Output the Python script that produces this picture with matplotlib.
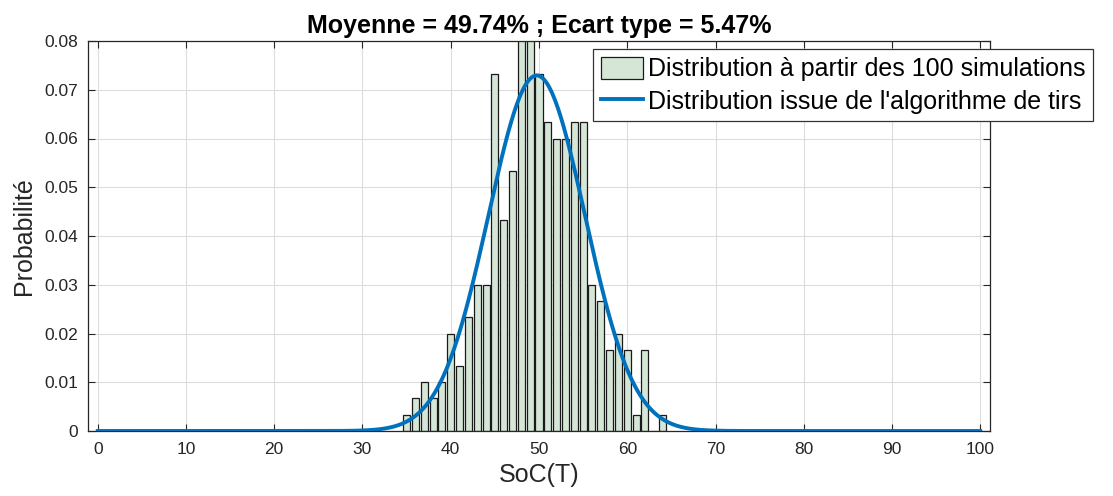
import numpy as np
import matplotlib
matplotlib.use("Agg")
import matplotlib.pyplot as plt
from matplotlib.ticker import FuncFormatter

plt.rcParams['font.family'] = ['Liberation Sans', 'DejaVu Sans']

# Histogram of the simulated SoC(T) values (bins of 1 %)
soc_bins = [35, 36, 37, 38, 39, 40, 41, 42, 43, 44, 45, 46, 47, 48, 49,
            50, 51, 52, 53, 54, 55, 56, 57, 58, 59, 60, 61, 62, 63, 64]
probabilities = [0.0033, 0.0067, 0.0100, 0.0067, 0.0100, 0.0200, 0.0133, 0.0233,
                 0.0300, 0.0300, 0.0733, 0.0433, 0.0533, 0.0833, 0.0833,
                 0.0733, 0.0633, 0.0600, 0.0600, 0.0633, 0.0633, 0.0300, 0.0267,
                 0.0167, 0.0200, 0.0167, 0.0033, 0.0167, 0.0000, 0.0033]

# Parameters of the fitted distribution
MU = 49.74
SIGMA = 5.47

x_ticks = list(range(0, 101, 10))
y_ticks = [0, 0.01, 0.02, 0.03, 0.04, 0.05, 0.06, 0.07, 0.08]

label_hist = "Distribution à partir des 100 simulations"
label_curve = "Distribution issue de l'algorithme de tirs"

W, H = 1113, 496
fig = plt.figure(figsize=(W / 100, H / 100), dpi=100)
ax = fig.add_axes([88 / W, 1 - 431 / H, (990 - 88) / W, (431 - 41) / H])

dark = '#262626'

bars = ax.bar(soc_bins, probabilities, width=0.8, color='#d5e6d6', edgecolor='#1a1a1a',
              linewidth=0.9, label=label_hist, zorder=2)

xs = np.linspace(0, 100, 1001)
pdf = np.exp(-0.5 * ((xs - MU) / SIGMA) ** 2) / (SIGMA * np.sqrt(2 * np.pi))
curve, = ax.plot(xs, pdf, color='#0072BD', linewidth=2.8, label=label_curve, zorder=3)

ax.set_xlim(-1.1, 101.1)
ax.set_ylim(0, 0.08)
ax.set_xticks(x_ticks)
ax.set_yticks(y_ticks)
ax.yaxis.set_major_formatter(FuncFormatter(lambda v, p: '0' if v == 0 else f'{v:.2f}'))

ax.grid(True, color='#dcdcdc', linewidth=0.8, zorder=0)
ax.set_axisbelow(True)
ax.tick_params(direction='in', length=5, width=0.8, colors=dark, labelsize=12.5,
               top=True, right=True)
ax.tick_params(axis='x', pad=8)
ax.tick_params(axis='y', pad=7)
for s in ax.spines.values():
    s.set_color(dark)
    s.set_linewidth(0.9)

ax.set_title(f"Moyenne = {MU:.2f}% ; Ecart type = {SIGMA:.2f}%",
             fontsize=18, fontweight='bold', color='black', pad=6)
ax.set_xlabel("SoC(T)", fontsize=18, color=dark, labelpad=4)
ax.set_ylabel("Probabilité", fontsize=18, color=dark, labelpad=6)

leg = ax.legend([bars, curve], [label_hist, label_curve],
                loc='upper left', bbox_to_anchor=(593 / W, 1 - 49 / H),
                bbox_transform=fig.transFigure, fontsize=18, frameon=True,
                fancybox=False, framealpha=1, edgecolor='#333333', borderaxespad=0,
                handlelength=1.7, handleheight=1.0, handletextpad=0.2,
                borderpad=0.3, labelspacing=0.3)
leg.get_frame().set_linewidth(0.9)
for t in leg.get_texts():
    t.set_color('black')

fig.savefig('out.png', dpi=100)
